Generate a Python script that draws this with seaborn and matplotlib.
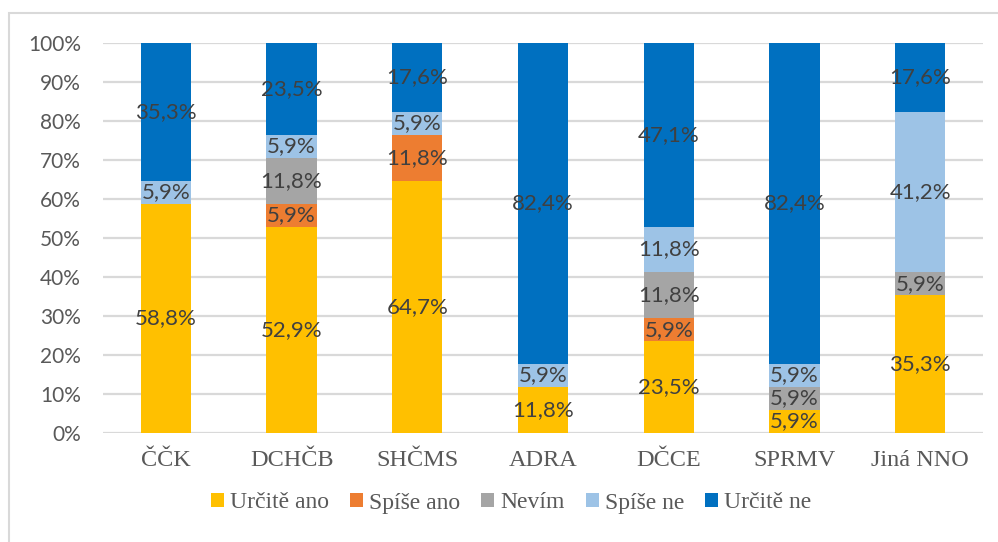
import pandas as pd
import seaborn as sns
import matplotlib.pyplot as plt
from matplotlib import font_manager as fm
from matplotlib.patches import Rectangle, Patch

kategorie = ['ČČK', 'DCHČB', 'SHČMS', 'ADRA', 'DČCE', 'SPRMV', 'Jiná NNO']
serie = ['Určitě ano', 'Spíše ano', 'Nevím', 'Spíše ne', 'Určitě ne']
urcite_ano = [58.8, 52.9, 64.7, 11.8, 23.5, 5.9, 35.3]
spise_ano = [0, 5.9, 11.8, 0, 5.9, 0, 0]
nevim = [0, 11.8, 0, 0, 11.8, 5.9, 5.9]
spise_ne = [5.9, 5.9, 5.9, 5.9, 11.8, 5.9, 41.2]
urcite_ne = [35.3, 23.5, 17.6, 82.4, 47.1, 82.4, 17.6]
barvy = ['#FFC000', '#ED7D31', '#A5A5A5', '#9DC3E6', '#0070C0']

# patkové písmo podle souboru
serif_soubory = [f.fname for f in fm.fontManager.ttflist
                 if 'Serif' in f.name and 'Sans' not in f.name and f.style == 'normal'
                 and f.weight in (400, 'normal', 'regular')]
serif_soubory.sort(key=lambda p: ('Liberation' not in p, p))
serif_path = serif_soubory[0]

df = pd.DataFrame({'kat': kategorie, 'Určitě ano': urcite_ano, 'Spíše ano': spise_ano,
                   'Nevím': nevim, 'Spíše ne': spise_ne, 'Určitě ne': urcite_ne})
cum = df[serie].cumsum(axis=1)
# normalizace na 100 %
cum = cum.div(cum[serie[-1]], axis=0) * 100
df_cum = pd.concat([df[['kat']], cum], axis=1)

fig = plt.figure(figsize=(9.98, 5.42), dpi=100)
ax = fig.add_axes([103 / 998, (542 - 433) / 542, 880 / 998, 390 / 542])

# kreslení od nejvyšší kumulativní hodnoty dolů
for s, c in reversed(list(zip(serie, barvy))):
    sns.barplot(data=df_cum, x='kat', y=s, color=c, width=0.4, ax=ax,
                saturation=1, zorder=3, linewidth=0)

# popisky hodnot
for i, k in enumerate(kategorie):
    dolni = 0
    for s in serie:
        v = df.loc[i, s]
        horni = cum.loc[i, s]
        if v > 0:
            ax.text(i, (dolni + horni) / 2, f'{v:.1f}%'.replace('.', ','),
                    ha='center', va='center', fontsize=16, color='#404040',
                    family='Lato', zorder=5)
        dolni = horni

ax.set_ylim(0, 100)
ax.set_xlim(-0.5, 6.5)
ax.set_yticks(range(0, 101, 10))
ax.set_yticklabels([f'{t}%' for t in range(0, 101, 10)], fontsize=15,
                   color='#595959', family='Lato')
ax.set_xticks(range(len(kategorie)))
ax.set_xticklabels(kategorie, color='#595959',
                   fontproperties=fm.FontProperties(fname=serif_path, size=17.5))
ax.tick_params(axis='y', length=0, pad=16)
ax.tick_params(axis='x', length=0, pad=12)
ax.set_xlabel('')
ax.set_ylabel('')
for sp in ax.spines.values():
    sp.set_visible(False)
ax.grid(axis='y', color='#d9d9d9', linewidth=1.6, zorder=0)
ax.set_axisbelow(True)

handles = [Patch(facecolor=c, label=s) for s, c in zip(serie, barvy)]
fig.legend(handles=handles, loc='center', bbox_to_anchor=(511 / 998, 1 - 503 / 542),
           ncol=5, frameon=False, prop=fm.FontProperties(fname=serif_path, size=17),
           labelcolor='#595959', handlelength=0.55, handleheight=0.55,
           handletextpad=0.25, columnspacing=0.9)

fig.patches.append(Rectangle((9 / 998, -0.05), 1.0, 1 - 13 / 542 + 0.05,
                             transform=fig.transFigure, fill=False,
                             edgecolor='#d9d9d9', linewidth=1.5))

fig.savefig('out.png', dpi=100)
